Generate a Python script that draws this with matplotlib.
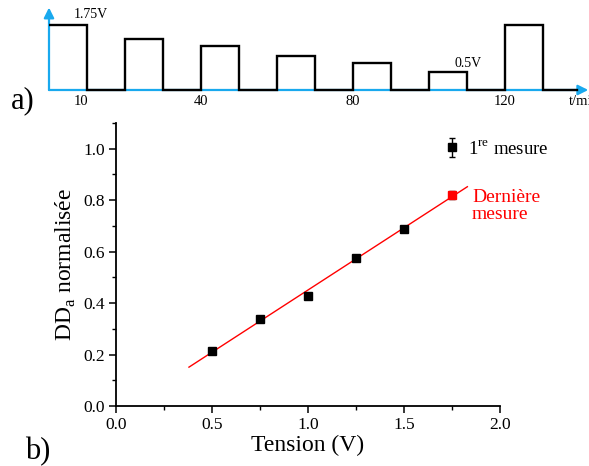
import numpy as np
import matplotlib
matplotlib.use('Agg')
import matplotlib.pyplot as plt
from matplotlib.ticker import MultipleLocator

plt.rcParams['font.family'] = ['Liberation Serif', 'DejaVu Serif']
plt.rcParams['mathtext.fontset'] = 'custom'
plt.rcParams['mathtext.rm'] = 'Liberation Serif'

# a) pulse sequence (t in min, amplitude in V as drawn)
pulse_start = [0, 20, 40, 60, 80, 100, 120]
pulse_len = 10
pulse_volt = [1.75, 1.38, 1.19, 0.92, 0.73, 0.48, 1.75]
time_ticks = [10, 40, 80, 120]

# b) normalised DDa versus tension
tension = [0.5, 0.75, 1.0, 1.25, 1.5, 1.75]
dda = [0.214, 0.339, 0.429, 0.576, 0.689, 0.821]
dda_err = [0.008, 0.008, 0.008, 0.010, 0.012, 0.015]

BLUE = '#19a9ee'

fig = plt.figure(figsize=(5.89, 4.66), dpi=100)

# ---- top panel: schematic of the applied pulses
axa = fig.add_axes([49/589, 346/466, 540/589, 120/466])
axa.set_xlim(0, 142.1)
axa.set_ylim(-0.808, 2.423)
axa.axis('off')

arr = dict(arrowstyle='-|>', color=BLUE, lw=1.6, mutation_scale=15, shrinkA=0, shrinkB=0)
axa.annotate('', xy=(0, 2.22), xytext=(0, 0), arrowprops=arr, zorder=1)
axa.annotate('', xy=(141.9, 0), xytext=(0, 0), arrowprops=arr, zorder=1)

ts, vs = [], []
for s, v in zip(pulse_start, pulse_volt):
    if s > 0:
        ts.append(s); vs.append(0)
    ts += [s, s + pulse_len, s + pulse_len]
    vs += [v, v, 0]
ts.append(139); vs.append(0)
axa.plot(ts, vs, color='black', lw=1.7, solid_joinstyle='miter', zorder=2)

for t in time_ticks:
    axa.text(t - 1.5 if t == 10 else t, -0.3, str(t), ha='center', va='center', fontsize=10.5)
axa.text(136.8, -0.3, 't/min', ha='left', va='center', fontsize=10.5, clip_on=False)
axa.text(6.6, 2.02, '1.75V', ha='left', va='center', fontsize=10)
axa.text(106.8, 0.70, '0.5V', ha='left', va='center', fontsize=10)
fig.text(11/589, 1 - 101/466, 'a)', fontsize=22, ha='left', va='center')

# ---- bottom panel
ax = fig.add_axes([116/589, 60/466, 384/589, 283/466])
ax.errorbar(tension[:-1], dda[:-1], yerr=dda_err[:-1], fmt='s', color='black',
            ms=5.3, capsize=2, elinewidth=1, label='1$^{\\mathrm{re}}$ mesure')
ax.errorbar(tension[-1:], dda[-1:], yerr=dda_err[-1:], fmt='s', mfc='red', mec='red',
            ecolor='black', ms=5.3, capsize=2, elinewidth=1)

slope, inter = np.polyfit(tension, dda, 1)
xf = np.array([0.38, 1.83])
ax.plot(xf, slope * xf + inter, color='red', lw=1)

ax.annotate('Dernière\nmesure', xy=(tension[-1], dda[-1]), xytext=(20, -11),
            textcoords='offset pixels', color='red', fontsize=14,
            ha='left', va='center', linespacing=1.0)

leg = ax.legend(loc='center left', bbox_to_anchor=(0.852, 0.908), frameon=False,
                borderpad=0, borderaxespad=0, handlelength=0.9, handletextpad=0.45,
                fontsize=13.5)

ax.set_xlim(0, 2.0)
ax.set_ylim(0, 1.1)
ax.xaxis.set_minor_locator(MultipleLocator(0.25))
ax.yaxis.set_minor_locator(MultipleLocator(0.1))
ax.set_xticks([0, 0.5, 1.0, 1.5, 2.0])
ax.set_yticks([0, 0.2, 0.4, 0.6, 0.8, 1.0])
ax.xaxis.set_major_formatter(lambda v, p: f'{v:.1f}')
ax.yaxis.set_major_formatter(lambda v, p: f'{v:.1f}')
for s in ['top', 'right']:
    ax.spines[s].set_visible(False)
for s in ['left', 'bottom']:
    ax.spines[s].set_linewidth(1.3)
ax.tick_params(which='major', length=5, width=1.1, labelsize=12.5, direction='out', pad=3)
ax.tick_params(which='minor', length=3, width=1.0, direction='out')
ax.set_xlabel('Tension (V)', fontsize=17, labelpad=1)
ax.set_ylabel('DD$_{\\mathrm{a}}$ normalisée', fontsize=17, labelpad=4)

fig.text(25/589, 1 - 452/466, 'b)', fontsize=22, ha='left', va='center')

fig.savefig('out.png', dpi=100)
